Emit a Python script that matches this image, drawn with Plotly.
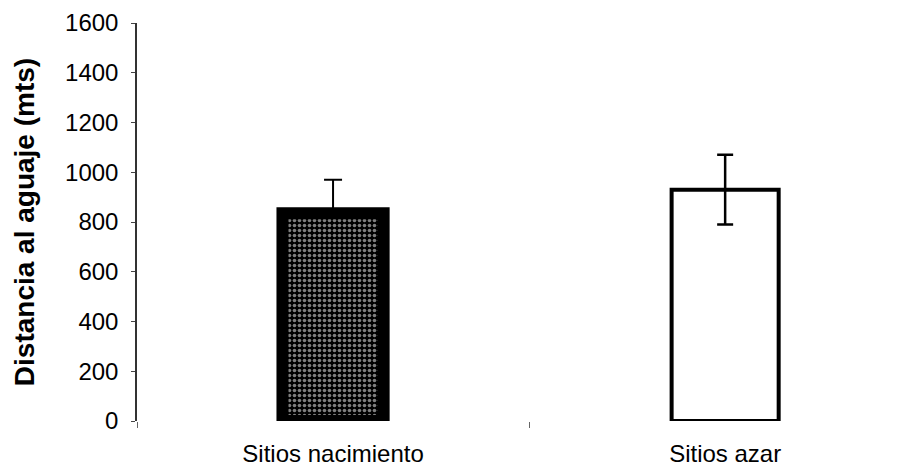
import plotly.graph_objects as go

# Mean distance to the water hole at birth sites vs. random sites
categories = ["Sitios nacimiento", "Sitios azar"]
mean_distance = [835, 930]
std_error = [135, 140]
y_tickvals = [0, 200, 400, 600, 800, 1000, 1200, 1400, 1600]

FONT = "Liberation Sans, Arial, sans-serif"

fig = go.Figure()

# Birth sites: black bar with a speckled texture and a heavy black frame
fig.add_trace(go.Bar(
    x=[categories[0]],
    y=[mean_distance[0]],
    width=0.258,
    marker=dict(
        color="black",
        line=dict(color="black", width=12),
        pattern=dict(shape=".", bgcolor="black", fgcolor="white", size=5, solidity=0.4),
    ),
    error_y=dict(type="data", array=[std_error[0]], arrayminus=[0], symmetric=False,
                 color="black", thickness=2, width=9),
    showlegend=False,
))

# Random sites: white bar with a black frame
fig.add_trace(go.Bar(
    x=[categories[1]],
    y=[mean_distance[1]],
    width=0.273,
    marker=dict(color="white", line=dict(color="black", width=4)),
    error_y=dict(type="data", array=[std_error[1]], color="black", thickness=2.5, width=8),
    showlegend=False,
))

fig.update_layout(
    width=911,
    height=468,
    margin=dict(l=137, r=0, t=23, b=47),
    paper_bgcolor="white",
    plot_bgcolor="white",
    barmode="overlay",
    font=dict(family=FONT, color="black"),
    xaxis=dict(
        type="category",
        categoryorder="array",
        categoryarray=categories,
        range=[-0.5, 1.474],
        showline=False,
        showgrid=False,
        zeroline=False,
        ticks="outside",
        tickson="boundaries",
        ticklen=6,
        tickcolor="#666666",
        tickfont=dict(size=24, family=FONT, color="black"),
        ticklabelstandoff=16,
    ),
    yaxis=dict(
        range=[0, 1600],
        tickvals=y_tickvals,
        ticktext=[str(v) for v in y_tickvals],
        showline=True,
        linecolor="#333333",
        linewidth=1.5,
        showgrid=False,
        zeroline=False,
        ticks="outside",
        ticklen=4,
        tickcolor="#444444",
        tickfont=dict(size=24, family=FONT, color="black"),
        ticklabelstandoff=8,
        title=dict(
            text="Distancia al aguaje (mts)",
            font=dict(size=28, family=FONT, weight="bold", color="black"),
            standoff=22,
        ),
    ),
)

fig.write_html("out.html")
